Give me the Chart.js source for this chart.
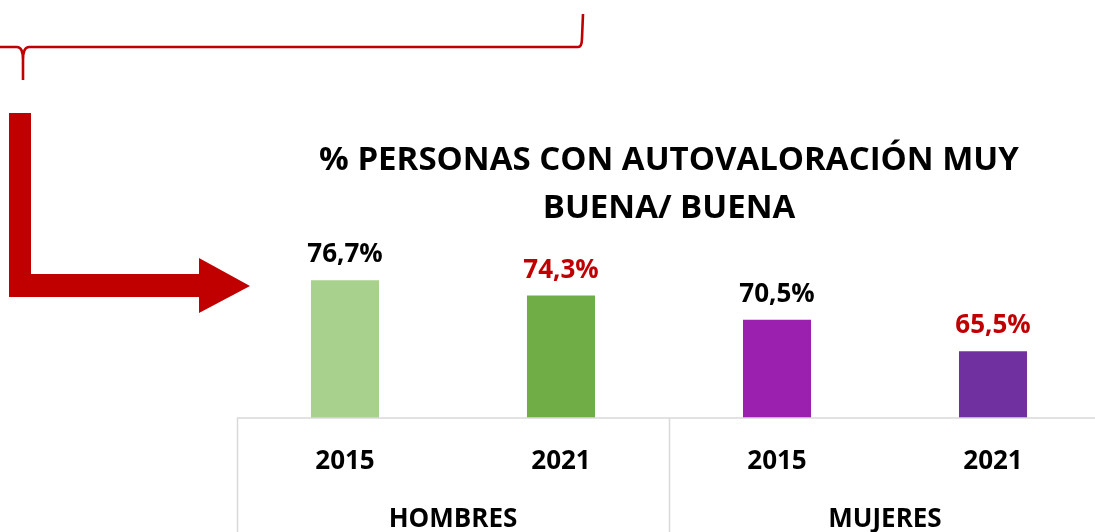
<!DOCTYPE html>
<html>
<head>
<meta charset="utf-8">
<script src="https://cdn.jsdelivr.net/npm/chart.js@4"></script>
<style>
  html, body { margin: 0; padding: 0; background: #fff; }
  #wrap { width: 1095px; height: 532px; overflow: hidden; position: relative; }
  #wrap canvas { position: absolute; left: 0; top: 0; }
</style>
</head>
<body>
<div id="wrap">
  <canvas id="autoChart" width="1120" height="532" style="width:1120px;height:532px"></canvas>
</div>
<script>
const years = ['2015', '2021', '2015', '2021'];
const groups = ['HOMBRES', 'MUJERES'];
const values = [76.7, 74.3, 70.5, 65.5];
const barColors = ['#A9D18E', '#70AD47', '#9C20AF', '#7030A0'];
const labelColors = ['#000000', '#C00000', '#000000', '#C00000'];
const titleLines = ['% PERSONAS CON AUTOVALORACIÓN MUY', 'BUENA/ BUENA'];

const RED = '#C00000';
const LINE = '#D9D9D9';

// data labels above bars, "76,7%"
const valueLabels = {
  id: 'valueLabels',
  afterDatasetsDraw(chart) {
    const ctx = chart.ctx;
    const meta = chart.getDatasetMeta(0);
    ctx.save();
    ctx.font = 'bold 26px "Open Sans"';
    ctx.textAlign = 'center';
    ctx.textBaseline = 'alphabetic';
    meta.data.forEach((bar, i) => {
      ctx.fillStyle = labelColors[i];
      ctx.fillText(values[i].toFixed(1).replace('.', ',') + '%', bar.x, bar.y - 18);
    });
    ctx.restore();
  }
};

// box lines under the bars + the red bracket and arrow of the slide
const decor = {
  id: 'decor',
  afterDraw(chart) {
    const ctx = chart.ctx;
    const a = chart.chartArea;
    const x = chart.scales.x;
    const bottom = chart.height;
    ctx.save();

    ctx.strokeStyle = LINE;
    ctx.lineWidth = 1.5;
    ctx.beginPath();
    ctx.moveTo(a.left, a.bottom);
    ctx.lineTo(a.right, a.bottom);
    // separators at group edges
    const half = (x.getPixelForValue(1) - x.getPixelForValue(0)) / 2;
    [0, 2, 4].forEach(i => {
      const px = Math.round(x.getPixelForValue(i) - half) + 0.5;
      ctx.moveTo(px, a.bottom);
      ctx.lineTo(px, bottom);
    });
    ctx.stroke();

    // bracket
    ctx.strokeStyle = RED;
    ctx.lineWidth = 2.6;
    ctx.beginPath();
    ctx.moveTo(0, 47);
    ctx.lineTo(17, 47);
    ctx.quadraticCurveTo(23, 47, 23, 60);
    ctx.lineTo(23, 80);
    ctx.moveTo(23, 60);
    ctx.quadraticCurveTo(23, 47, 29, 47);
    ctx.lineTo(578, 47);
    ctx.quadraticCurveTo(582, 47, 582, 38);
    ctx.lineTo(583, 14);
    ctx.stroke();

    // arrow
    ctx.fillStyle = RED;
    ctx.beginPath();
    ctx.moveTo(9, 113);
    ctx.lineTo(31, 113);
    ctx.lineTo(31, 274);
    ctx.lineTo(199, 274);
    ctx.lineTo(199, 258);
    ctx.lineTo(250, 286);
    ctx.lineTo(199, 313);
    ctx.lineTo(199, 297);
    ctx.lineTo(9, 297);
    ctx.closePath();
    ctx.fill();

    ctx.restore();
  }
};

const ctx = document.getElementById('autoChart').getContext('2d');

const data = {
  labels: years,
  datasets: [
    {
      label: '% muy buena / buena',
      data: values,
      backgroundColor: barColors,
      borderWidth: 0,
      categoryPercentage: 1,
      barPercentage: 0.315
    }
  ]
};

const config = {
  type: 'bar',
  data: data,
  options: {
    responsive: false,
    animation: false,
    layout: {
      padding: { left: 237, right: 19, top: 0, bottom: 0 }
    },
    plugins: {
      legend: { display: false },
      tooltip: { enabled: false },
      title: {
        display: true,
        text: titleLines,
        color: '#000',
        font: { family: 'Open Sans', size: 33, weight: 'bold', lineHeight: 1.45 },
        padding: { top: 137, bottom: 26 }
      }
    },
    scales: {
      x: {
        grid: { display: false },
        border: { display: false },
        ticks: {
          color: '#000',
          font: { family: 'Open Sans', size: 26, weight: 'bold' },
          padding: 20,
          maxRotation: 0,
          autoSkip: false
        },
        afterFit(scale) { scale.height = 68; }
      },
      x2: {
        type: 'category',
        labels: groups,
        position: 'bottom',
        offset: true,
        grid: { display: false },
        border: { display: false },
        ticks: {
          color: '#000',
          font: { family: 'Open Sans', size: 26, weight: 'bold' },
          padding: 10,
          maxRotation: 0
        },
        afterFit(scale) { scale.height = 46; }
      },
      y: {
        display: false,
        min: 55,
        max: 80.1
      }
    }
  },
  plugins: [valueLabels, decor]
};

Chart.defaults.font.family = 'Open Sans';
const autoChart = new Chart(ctx, config);
</script>
</body>
</html>
